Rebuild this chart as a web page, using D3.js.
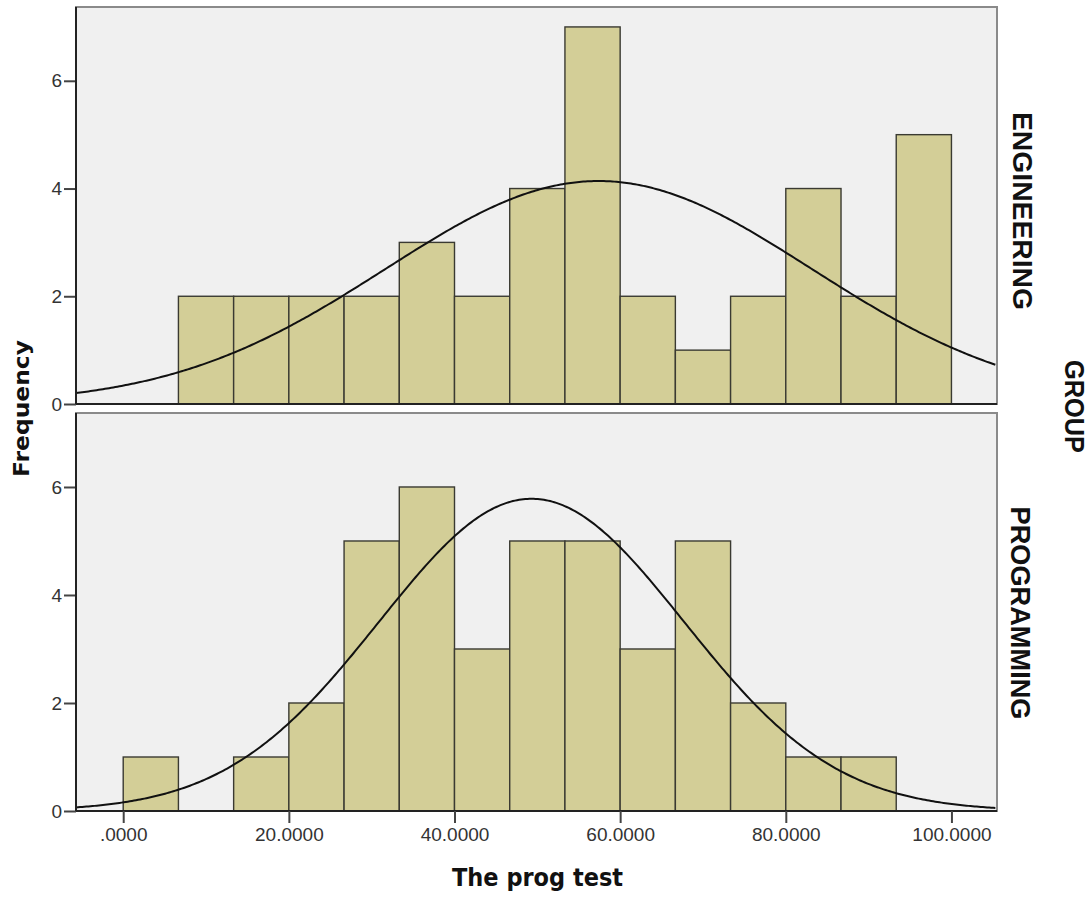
<!DOCTYPE html>
<html>
<head>
<meta charset="utf-8">
<script src="https://cdn.jsdelivr.net/npm/d3@7"></script>
<style>
  body { margin: 0; background: #fff; }
  svg { font-family: "Liberation Sans", Arial, sans-serif; }
  .tick text { font-size: 19px; font-family: "Liberation Sans", Arial, sans-serif; fill: #333; }
</style>
</head>
<body>
<svg id="chart" width="1092" height="899"></svg>
<script>
// bins of width 100/15 starting at 0
const binEdges = d3.range(0, 16).map(i => i * 100 / 15)
const groups = ['ENGINEERING', 'PROGRAMMING']
const engineeringCounts = [0, 2, 2, 2, 2, 3, 2, 4, 7, 2, 1, 2, 4, 2, 5]
const programmingCounts = [1, 0, 1, 2, 5, 6, 3, 5, 5, 3, 5, 2, 1, 1, 0]
// fitted normal curve parameters
const curveMeans = [57.4, 49.3]
const curveSds = [25.7, 18.4]
const xTicks = [0, 20, 40, 60, 80, 100]
const yTicks = [0, 2, 4, 6]

const counts = [engineeringCounts, programmingCounts]

const svg = d3.select('#chart')
const left = 76, right = 997
const panels = [
    {top: 7, bottom: 404, labelY: 211, labelX: 1013, labelLen: 198},
    {top: 413, bottom: 811, labelY: 613, labelX: 1011, labelLen: 213}
]

const x = d3.scaleLinear().domain([-5.7, 105.5]).range([left, right])

panels.forEach((p, gi) => {
    let y = d3.scaleLinear().domain([0, 7.37]).range([p.bottom, p.top])
    let g = svg.append('g')

    g.append('rect')
        .attr('x', left).attr('y', p.top)
        .attr('width', right - left).attr('height', p.bottom - p.top)
        .attr('fill', '#f0f0f0')
        .attr('stroke', '#8a8a8a').attr('stroke-width', 2)

    let bins = counts[gi].map((c, i) => ({x0: binEdges[i], x1: binEdges[i + 1], c: c}))
        .filter(d => d.c > 0)

    g.selectAll('rect.bar')
        .data(bins)
        .enter()
        .append('rect')
        .attr('class', 'bar')
        .attr('x', d => x(d.x0))
        .attr('width', d => x(d.x1) - x(d.x0))
        .attr('y', d => y(d.c))
        .attr('height', d => y(0) - y(d.c))
        .attr('fill', '#d3ce97')
        .attr('stroke', '#3a3a32')
        .attr('stroke-width', 1.4)

    // normal curve scaled to counts
    let n = d3.sum(counts[gi])
    let bw = 100 / 15
    let m = curveMeans[gi], s = curveSds[gi]
    let pts = d3.range(x.domain()[0], x.domain()[1] + 0.01, 0.25)
        .map(v => [v, n * bw / (s * Math.sqrt(2 * Math.PI)) * Math.exp(-0.5 * ((v - m) / s) ** 2)])

    g.append('path')
        .datum(pts)
        .attr('fill', 'none')
        .attr('stroke', '#111')
        .attr('stroke-width', 2)
        .attr('d', d3.line().x(d => x(d[0])).y(d => y(d[1])))

    // axes
    let ya = g.append('g')
        .attr('transform', `translate(${left},0)`)
        .call(d3.axisLeft(y).tickValues(yTicks).tickSize(12).tickSizeOuter(0).tickPadding(2).tickFormat(d3.format('d')))
    ya.select('.domain').remove()
    ya.append('line').attr('x1', 0).attr('x2', 0).attr('y1', p.top).attr('y2', p.bottom)
        .attr('stroke', '#222').attr('stroke-width', 2)
    ya.selectAll('.tick line').attr('stroke', '#444').attr('stroke-width', 2)

    g.append('line').attr('x1', left).attr('x2', right).attr('y1', p.bottom).attr('y2', p.bottom)
        .attr('stroke', '#222').attr('stroke-width', 2)

    g.append('text')
        .attr('transform', `translate(${p.labelX},${p.labelY}) rotate(90)`)
        .attr('text-anchor', 'middle')
        .attr('font-size', 27)
        .attr('font-weight', 'bold')
        .attr('fill', '#111')
        .attr('textLength', p.labelLen)
        .attr('lengthAdjust', 'spacingAndGlyphs')
        .text(groups[gi])
})

let xa = svg.append('g')
    .attr('transform', `translate(0,${panels[1].bottom})`)
    .call(d3.axisBottom(x).tickValues(xTicks).tickSize(12).tickSizeOuter(0).tickPadding(5)
        .tickFormat(d => d === 0 ? '.0000' : d3.format('.4f')(d)))
xa.select('.domain').remove()
xa.selectAll('.tick line').attr('stroke', '#444').attr('stroke-width', 2)

svg.append('text')
    .attr('x', 537.5).attr('y', 886)
    .attr('text-anchor', 'middle')
    .attr('font-family', '"DejaVu Sans", sans-serif')
    .attr('font-size', 24).attr('font-weight', 'bold').attr('fill', '#111')
    .attr('textLength', 171).attr('lengthAdjust', 'spacingAndGlyphs')
    .text('The prog test')

svg.append('text')
    .attr('transform', 'translate(29,408.5) rotate(-90)')
    .attr('text-anchor', 'middle')
    .attr('font-family', '"DejaVu Sans", sans-serif')
    .attr('font-size', 22).attr('font-weight', 'bold').attr('fill', '#111')
    .attr('textLength', 137).attr('lengthAdjust', 'spacingAndGlyphs')
    .text('Frequency')

svg.append('text')
    .attr('transform', 'translate(1065,406.5) rotate(90)')
    .attr('text-anchor', 'middle')
    .attr('font-size', 27).attr('font-weight', 'bold').attr('fill', '#111')
    .attr('textLength', 93).attr('lengthAdjust', 'spacingAndGlyphs')
    .text('GROUP')
</script>
</body>
</html>
